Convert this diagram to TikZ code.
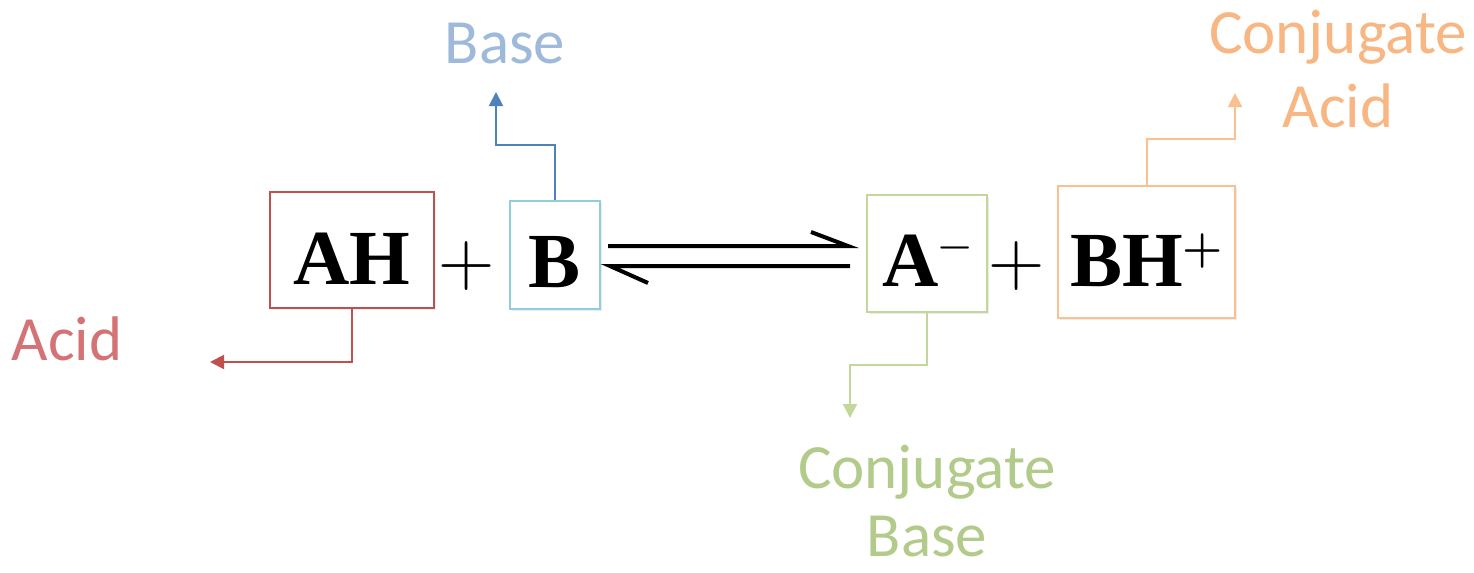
\documentclass[tikz,border=0pt]{standalone}
\usepackage{fontspec}
\setmainfont{Liberation Serif}
\newfontfamily\tagfont{Carlito}
\newfontfamily\signfont{Latin Modern Roman}
\usetikzlibrary{arrows.meta,shadows}

\definecolor{acidred}{HTML}{C0504D}
\definecolor{acidtext}{HTML}{D47375}
\definecolor{baseblue}{HTML}{4F81BD}
\definecolor{basebox}{HTML}{92CDDC}
\definecolor{basetext}{HTML}{9FB9DB}
\definecolor{cbgreen}{HTML}{C3D69B}
\definecolor{cbtext}{HTML}{B3CB8A}
\definecolor{caorange}{HTML}{FAC090}
\definecolor{catext}{HTML}{F8B683}

\begin{document}
\begin{tikzpicture}[x=0.5pt,y=-0.5pt,
   species/.style={draw,line width=1pt,fill=white,inner sep=0pt,anchor=base,
      font=\fontsize{39}{39}\selectfont\bfseries,
      drop shadow={opacity=0.15,shadow xshift=1pt,shadow yshift=-1.2pt}},
   sign/.style={inner sep=0pt,font=\signfont\fontsize{39}{39}\selectfont},
   tag/.style={inner sep=0pt,font=\tagfont\fontsize{31.5}{37}\selectfont,align=center},
   pointer/.style={line width=1pt,-{Triangle[length=7pt,width=7pt]}},
   eqline/.style={line width=2pt,line join=miter}]
   \useasboundingbox (0,0) rectangle (1474,573);

   % species boxes
   \node[species,draw=acidred,minimum width=82pt,text height=46pt,text depth=12pt] (ah) at (352,284) {AH};
   \node[species,draw=basebox,minimum width=45pt,text height=43pt,text depth=11pt] (b) at (555,287) {B};
   \node[species,draw=cbgreen,minimum width=60pt,text height=45.5pt,text depth=13pt] (am) at (927,286)
      {A\raisebox{0.36em}{\signfont\fontsize{19}{19}\selectfont\char"2212}};
   \node[species,draw=caorange,minimum width=88.5pt,text height=50pt,text depth=16pt] (bh) at (1146.5,286)
      {BH\raisebox{0.3em}{\signfont\fontsize{23}{23}\selectfont+}};

   % plus signs
   \node[sign] (plusl) at (467,266) {+};
   \node[sign] (plusr) at (1017,266) {+};

   % equilibrium harpoons
   \coordinate (fwda) at (608,246);
   \coordinate (fwdb) at (848,246);
   \coordinate (bwda) at (850,266);
   \coordinate (bwdb) at (610,266);
   \draw[eqline] (fwda) -- (fwdb) -- ++(-37,-14);
   \draw[eqline] (bwda) -- (bwdb) -- ++(38,17);

   % labels
   \node[tag,text=acidtext,anchor=base] (acid) at (67,360) {Acid};
   \node[tag,text=basetext,anchor=base] (base) at (505,63) {Base};
   \node[tag,text=catext] (conjacid) at (1338,69) {Conjugate\\Acid};
   \node[tag,text=cbtext,font=\tagfont\fontsize{31.5}{34}\selectfont] (conjbase) at (927,501) {Conjugate\\Base};

   % pointers
   \coordinate (acidend) at (210,362);
   \coordinate (basebend) at (496,145);
   \coordinate (baseend) at (496,92);
   \coordinate (cabend) at (1235,139);
   \coordinate (caend) at (1235,93);
   \coordinate (cbbend) at (850,365);
   \coordinate (cbend) at (850,418);
   \draw[pointer,acidred] (ah.south) |- (acidend);
   \draw[pointer,baseblue] (b.north) |- (basebend) -- (baseend);
   \draw[pointer,caorange] (bh.north) |- (cabend) -- (caend);
   \draw[pointer,cbgreen] (am.south) |- (cbbend) -- (cbend);
\end{tikzpicture}
\end{document}
